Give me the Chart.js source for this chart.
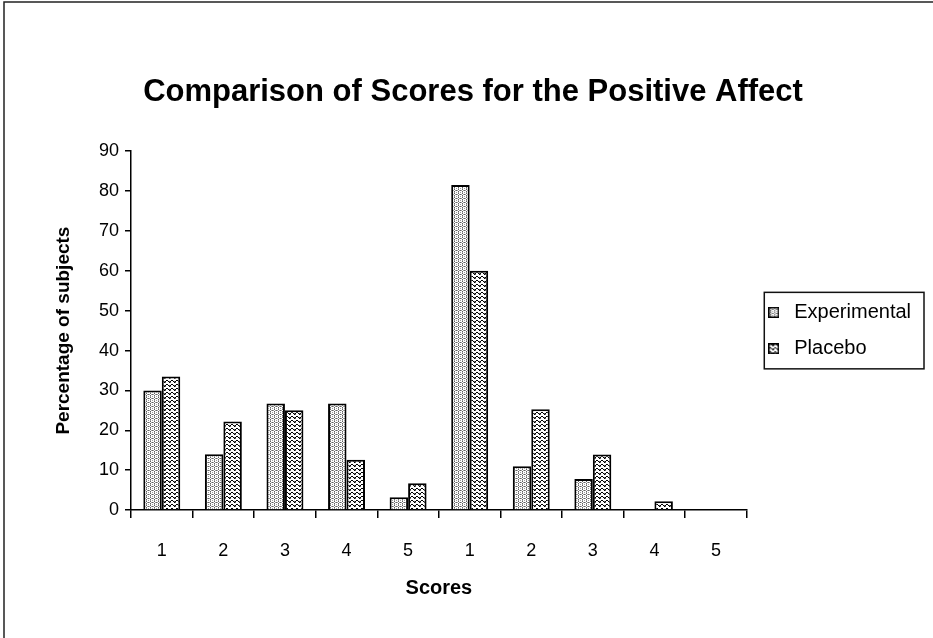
<!DOCTYPE html>
<html>
<head>
<meta charset="utf-8">
<script src="https://cdn.jsdelivr.net/npm/chart.js@4.4.1/dist/chart.umd.min.js"></script>
<style>
  html, body { margin: 0; padding: 0; background: #fff; }
  canvas { display: block; }
</style>
</head>
<body>
<canvas id="c" width="933" height="638"></canvas>
<script>
const categories = ['1', '2', '3', '4', '5', '1', '2', '3', '4', '5'];
const experimental = [30, 14, 26.7, 26.7, 3.2, 81.5, 11, 7.8, 0, 0];
const placebo = [33.5, 22.2, 25, 12.6, 6.7, 60, 25.3, 13.9, 2.2, 0];
const yTicks = [0, 10, 20, 30, 40, 50, 60, 70, 80, 90];

const FONT = '"Liberation Sans", Arial, Helvetica, sans-serif';

function makeExpTile() {
  const c = document.createElement('canvas');
  c.width = 4; c.height = 4;
  const g = c.getContext('2d');
  g.fillStyle = '#ffffff'; g.fillRect(0, 0, 4, 4);
  g.fillStyle = '#a0a0a0';
  g.fillRect(0, 0, 1, 1); g.fillRect(2, 0, 1, 1);
  g.fillRect(1, 2, 1, 1); g.fillRect(3, 2, 1, 1);
  g.fillStyle = '#606060';
  g.fillRect(2, 1, 1, 1); g.fillRect(2, 3, 1, 1);
  g.fillRect(0, 2, 1, 1);
  return c;
}
function makePlaceboTile() {
  const c = document.createElement('canvas');
  c.width = 5; c.height = 4;
  const g = c.getContext('2d');
  g.fillStyle = '#ffffff'; g.fillRect(0, 0, 5, 4);
  g.fillStyle = '#000000';
  const ys = [1, 0, 0, 1, 2];
  for (let x = 0; x < 5; x++) g.fillRect(x, ys[x], 1, 1);
  g.fillStyle = '#666666';
  g.fillRect(4, 1, 1, 1); g.fillRect(0, 2, 1, 1);
  return c;
}

const ctxTmp = document.createElement('canvas').getContext('2d');
const expPattern = ctxTmp.createPattern(makeExpTile(), 'repeat');
const plaPattern = ctxTmp.createPattern(makePlaceboTile(), 'repeat');

function makeIcon(pattern) {
  const c = document.createElement('canvas');
  c.width = 11; c.height = 11;
  const g = c.getContext('2d');
  g.fillStyle = pattern;
  g.fillRect(0, 0, 11, 11);
  g.strokeStyle = '#000';
  g.lineWidth = 1.5;
  g.strokeRect(0.75, 0.75, 9.5, 9.5);
  return c;
}
const expIcon = makeIcon(expPattern);
const plaIcon = makeIcon(plaPattern);

const frame = {
  id: 'frame',
  beforeDraw(chart) {
    const ctx = chart.ctx;
    ctx.save();
    ctx.fillStyle = '#fff';
    ctx.fillRect(0, 0, chart.width, chart.height);
    ctx.strokeStyle = '#222';
    ctx.lineWidth = 1.5;
    ctx.beginPath();
    ctx.moveTo(4, chart.height);
    ctx.lineTo(4, 2);
    ctx.lineTo(chart.width, 2);
    ctx.stroke();
    ctx.restore();
  }
};

const legendBorder = {
  id: 'legendBorder',
  afterDraw(chart) {
    const lg = chart.legend;
    if (!lg || !lg.legendHitBoxes || !lg.legendHitBoxes.length) return;
    const hb = lg.legendHitBoxes;
    let l = Infinity, t = Infinity, r = -Infinity, b = -Infinity;
    hb.forEach(h => {
      l = Math.min(l, h.left); t = Math.min(t, h.top);
      r = Math.max(r, h.left + h.width); b = Math.max(b, h.top + h.height);
    });
    const ctx = chart.ctx;
    ctx.save();
    ctx.strokeStyle = '#111';
    ctx.lineWidth = 1.5;
    ctx.strokeRect(l + 1, t - 10, (r - l) + 12, (b - t) + 20);
    ctx.restore();
  }
};

Chart.defaults.color = '#000';
Chart.defaults.font.family = FONT;

new Chart(document.getElementById('c'), {
  type: 'bar',
  data: {
    labels: categories,
    datasets: [
      {
        label: 'Experimental',
        data: experimental,
        backgroundColor: expPattern,
        borderColor: '#000',
        borderWidth: 2,
        borderSkipped: 'bottom',
        categoryPercentage: 0.6,
        barPercentage: 1.0
      },
      {
        label: 'Placebo',
        data: placebo,
        backgroundColor: plaPattern,
        borderColor: '#000',
        borderWidth: 2,
        borderSkipped: 'bottom',
        categoryPercentage: 0.6,
        barPercentage: 1.0
      }
    ]
  },
  options: {
    responsive: false,
    animation: false,
    devicePixelRatio: 1,
    layout: { padding: { left: 25, right: 12, top: 0, bottom: 0 } },
    plugins: {
      title: {
        display: true,
        text: 'Comparison of Scores for the Positive Affect',
        font: { size: 31, weight: 'bold', family: FONT },
        color: '#000',
        padding: { top: 74, bottom: 40 }
      },
      legend: {
        position: 'right',
        fullSize: false,
        align: 'center',
        labels: {
          usePointStyle: true,
          pointStyleWidth: 21,
          boxHeight: 11,
          padding: 16.5,
          font: { size: 20, family: FONT },
          color: '#000',
          generateLabels(chart) {
            const icons = [expIcon, plaIcon];
            return chart.data.datasets.map((ds, i) => ({
              text: ds.label,
              pointStyle: icons[i],
              fillStyle: ds.backgroundColor,
              strokeStyle: '#000',
              lineWidth: 1.5,
              hidden: false,
              datasetIndex: i
            }));
          }
        }
      },
      tooltip: { enabled: false }
    },
    scales: {
      x: {
        offset: true,
        grid: {
          offset: true,
          drawOnChartArea: false,
          drawTicks: true,
          tickLength: 8,
          color: '#000',
          lineWidth: 1.5
        },
        border: { display: true, color: '#000', width: 1.5 },
        ticks: {
          font: { size: 18, family: FONT },
          color: '#000',
          padding: 22,
          maxRotation: 0
        },
        title: {
          display: true,
          text: 'Scores',
          font: { size: 20, weight: 'bold', family: FONT },
          color: '#000',
          padding: { top: 0, bottom: 38 }
        },
        afterFit(scale) { scale.height = 128; }
      },
      y: {
        min: 0,
        max: 90,
        afterBuildTicks(scale) { scale.ticks = yTicks.map(v => ({ value: v })); },
        grid: {
          drawOnChartArea: false,
          drawTicks: true,
          tickLength: 6,
          color: '#000',
          lineWidth: 1.5
        },
        border: { display: true, color: '#000', width: 1.5 },
        ticks: {
          font: { size: 18, family: FONT },
          color: '#000',
          padding: 6
        },
        title: {
          display: true,
          text: 'Percentage of subjects',
          font: { size: 19, weight: 'bold', family: FONT },
          color: '#000',
          padding: { top: 27, bottom: 0 }
        },
        afterFit(scale) { scale.width = 106; }
      }
    }
  },
  plugins: [frame, legendBorder]
});
</script>
</body>
</html>
